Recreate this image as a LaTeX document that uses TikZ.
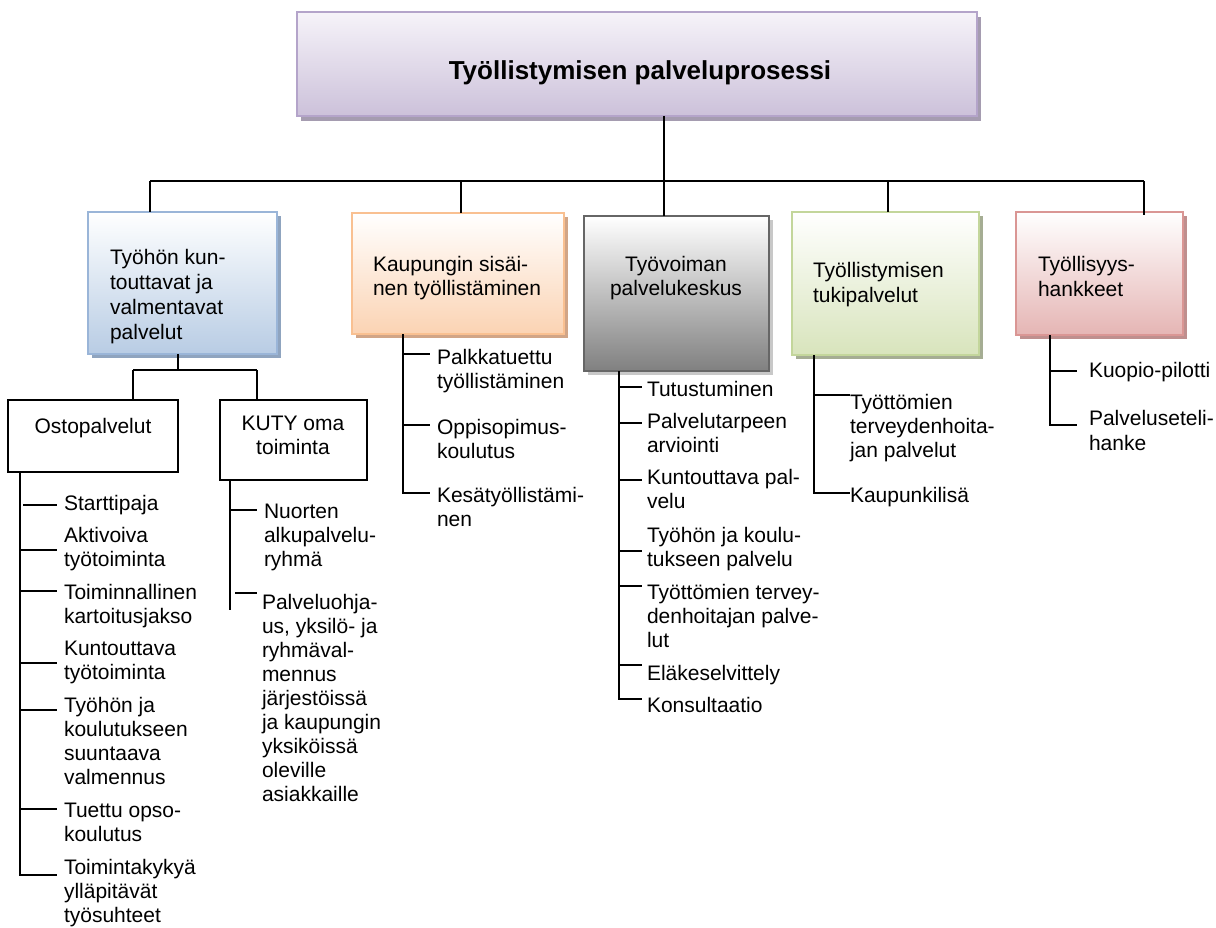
\documentclass[tikz,border=0pt]{standalone}
\usepackage{fontspec}
\setmainfont{Liberation Sans}
\usetikzlibrary{shadows}
\definecolor{tTop}{HTML}{F6F3F9}
\definecolor{tBot}{HTML}{CCC1DA}
\definecolor{tBrd}{HTML}{B4A4CA}
\definecolor{tSh}{HTML}{A59CB0}
\definecolor{aBot}{HTML}{B8CCE4}
\definecolor{aBrd}{HTML}{9AB5D8}
\definecolor{aSh}{HTML}{8FA4BF}
\definecolor{bBot}{HTML}{FBD3B3}
\definecolor{bBrd}{HTML}{F9C091}
\definecolor{bSh}{HTML}{D1A587}
\definecolor{cBot}{HTML}{808080}
\definecolor{cBrd}{HTML}{666666}
\definecolor{cSh}{HTML}{C8C8C8}
\definecolor{dBot}{HTML}{D8E4BC}
\definecolor{dBrd}{HTML}{C3D69B}
\definecolor{dSh}{HTML}{A5AD93}
\definecolor{eBot}{HTML}{E5B5B4}
\definecolor{eBrd}{HTML}{DA9694}
\definecolor{eSh}{HTML}{BF8F8E}
\newcommand\mylines[1]{\begin{tabular}[t]{@{}l@{}}#1\end{tabular}}
\newcommand\mylinesc[1]{\begin{tabular}[t]{@{}c@{}}#1\end{tabular}}
\begin{document}
\begin{tikzpicture}[x=1pt,y=-1pt,
  every node/.style={inner sep=0pt,outer sep=0pt},
  txt/.style={anchor=base west,font=\fontsize{21}{24}\selectfont},
  txtc/.style={anchor=base,font=\fontsize{21}{24}\selectfont},
  ln/.style={line width=1.4pt,black},
  busln/.style={line width=2.4pt,black},
  cbox/.style={anchor=north west,line width=1.8pt,top color=white,bottom color=#1Bot,draw=#1Brd,
    general shadow={shadow xshift=4pt,shadow yshift=-4pt,fill=#1Sh,draw=none}},
  wbox/.style={anchor=north west,line width=1.4pt,draw=black,fill=white}
]
\useasboundingbox[fill=white] (0,0) rectangle (1216,928);

% title
\node[anchor=north west,line width=2.4pt,top color=tTop,bottom color=tBot,draw=tBrd,
  general shadow={shadow xshift=4pt,shadow yshift=-5pt,fill=tSh,draw=none},
  minimum width=680pt,minimum height=104pt] (title) at (297,12) {};
\node[anchor=base,font=\fontsize{26}{30}\selectfont\bfseries] (titletext) at (640,80) {Työllistymisen palveluprosessi};

% category boxes
\node[cbox=a,minimum width=189pt,minimum height=142pt] (b1) at (88,212) {};
\node[cbox=b,minimum width=212pt,minimum height=121pt] (b2) at (352,213) {};
\node[cbox=c,minimum width=185pt,minimum height=155pt] (b3) at (584,216) {};
\node[cbox=d,minimum width=187pt,minimum height=143pt] (b4) at (792,212) {};
\node[cbox=e,minimum width=167pt,minimum height=123pt] (b5) at (1016,212) {};

\node[anchor=base west,font=\fontsize{21}{25}\selectfont] (t1) at (110,265) {\mylines{Työhön kun-\\touttavat ja\\valmentavat\\palvelut}};
\node[txt] (t2) at (373,272) {\mylines{Kaupungin sisäi-\\nen työllistäminen}};
\node[txtc] (t3) at (676,272) {\mylinesc{Työvoiman\\palvelukeskus}};
\node[anchor=base west,font=\fontsize{21}{25}\selectfont] (t4) at (813,277) {\mylines{Työllistymisen\\tukipalvelut}};
\node[anchor=base west,font=\fontsize{21}{25}\selectfont] (t5) at (1038,272) {\mylines{Työllisyys-\\hankkeet}};

% bus
\coordinate (j0) at (664,181);
\coordinate (j1) at (150,181);
\coordinate (j2) at (461,181);
\coordinate (j3) at (664,181);
\coordinate (j4) at (888,181);
\coordinate (j5) at (1144,181);
\draw[ln] (title.south -| j0) -- (j0);
\draw[busln] (j1) -- (j5);
\draw[ln] (j1) -- (j1 |- b1.north);
\draw[ln] (j2) -- (j2 |- b2.north);
\draw[ln] (j3) -- (j3 |- b3.north);
\draw[ln] (j4) -- (j4 |- b4.north);
\draw[ln] (j5) -- ([yshift=-3pt]j5 |- b5.north);

% sub boxes of b1
\node[wbox,minimum width=170pt,minimum height=72pt] (ob) at (8,400) {};
\node[wbox,minimum width=147pt,minimum height=80pt] (ku) at (220,400) {};
\node[txtc] (obt) at (93,433) {Ostopalvelut};
\node[txtc] (kut) at (293,430) {\mylinesc{KUTY oma\\toiminta}};
\coordinate (k0) at (178,370);
\coordinate (k1) at (133,370);
\coordinate (k2) at (257,370);
\draw[ln] (b1.south -| k0) -- (k0);
\draw[ln] (k1) -- (k2);
\draw[ln] (k1) -- (k1 |- ob.north);
\draw[ln] (k2) -- (k2 |- ku.north);

% Ostopalvelut list
\coordinate (ra) at (20,875);
\draw[ln] (ob.south -| ra) -- (ra) -- ++(37,0);
\draw[ln] (23,505) -- (57,505);
\foreach \yy in {550,591,663,710,809} \draw[ln] (20,\yy) -- (57,\yy);
\node[txt] (o1) at (64,510) {Starttipaja};
\node[txt] (o2) at (64,542) {\mylines{Aktivoiva\\työtoiminta}};
\node[txt] (o3) at (64,599) {\mylines{Toiminnallinen\\kartoitusjakso}};
\node[txt] (o4) at (64,655) {\mylines{Kuntouttava\\työtoiminta}};
\node[txt] (o5) at (64,712) {\mylines{Työhön ja\\koulutukseen\\suuntaava\\valmennus}};
\node[txt] (o6) at (64,817) {\mylines{Tuettu opso-\\koulutus}};
\node[txt] (o7) at (64,874) {\mylines{Toimintakykyä\\ylläpitävät\\työsuhteet}};

% KUTY list
\coordinate (rb) at (230,610);
\draw[ln] (ku.south -| rb) -- (rb);
\draw[ln] (230,510) -- (257,510);
\draw[ln] (235,593) -- (257,593);
\node[txt] (u1) at (264,518) {\mylines{Nuorten\\alkupalvelu-\\ryhmä}};
\node[txt] (u2) at (262,609) {\mylines{Palveluohja-\\us, yksilö- ja\\ryhmäval-\\mennus\\järjestöissä\\ja kaupungin\\yksiköissä\\oleville\\asiakkaille}};

% b2 list
\coordinate (rc) at (403,493);
\draw[ln] (b2.south -| rc) -- (rc) -- ++(27,0);
\foreach \yy in {354,425} \draw[ln] (403,\yy) -- (430,\yy);
\node[txt] (p1) at (437,364) {\mylines{Palkkatuettu\\työllistäminen}};
\node[txt] (p2) at (437,434) {\mylines{Oppisopimus-\\koulutus}};
\node[txt] (p3) at (437,502) {\mylines{Kesätyöllistämi-\\nen}};

% b3 list
\coordinate (rd) at (619,699);
\draw[ln] (b3.south -| rd) -- (rd) -- ++(23,0);
\foreach \yy in {387,423,480,551,586,665} \draw[ln] (619,\yy) -- (642,\yy);
\node[txt] (q1) at (647,396) {Tutustuminen};
\node[txt] (q2) at (647,428) {\mylines{Palvelutarpeen\\arviointi}};
\node[txt] (q3) at (647,484) {\mylines{Kuntouttava pal-\\velu}};
\node[txt] (q4) at (647,542) {\mylines{Työhön ja koulu-\\tukseen palvelu}};
\node[txt] (q5) at (647,599) {\mylines{Työttömien tervey-\\denhoitajan palve-\\lut}};
\node[txt] (q6) at (647,680) {Eläkeselvittely};
\node[txt] (q7) at (647,712) {Konsultaatio};

% b4 list
\coordinate (re) at (814,493);
\draw[ln] (b4.south -| re) -- (re) -- ++(36,0);
\draw[ln] (814,395) -- (850,395);
\node[txt] (r1) at (850,409) {\mylines{Työttömien\\terveydenhoita-\\jan palvelut}};
\node[txt] (r2) at (850,502) {Kaupunkilisä};

% b5 list
\coordinate (rf) at (1050,425);
\draw[ln] (b5.south -| rf) -- (rf) -- ++(27,0);
\draw[ln] (1050,371) -- (1077,371);
\node[txt] (s1) at (1089,377) {Kuopio-pilotti};
\node[anchor=base west,font=\fontsize{21}{25}\selectfont] (s2) at (1089,425) {\mylines{Palveluseteli-\\hanke}};
\end{tikzpicture}
\end{document}
